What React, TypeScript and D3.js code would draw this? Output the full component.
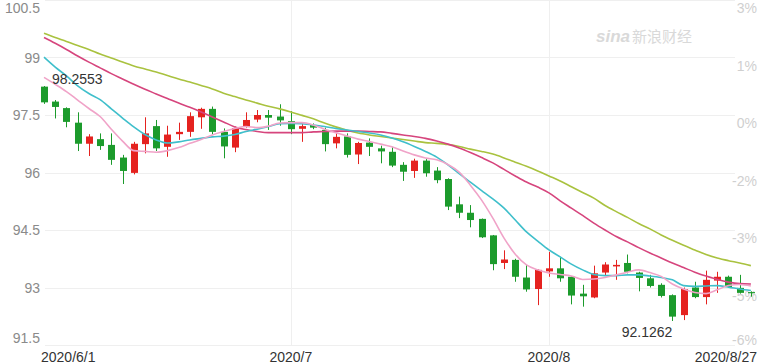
import React from 'react';
import * as d3 from 'd3';

const dates = [
  '2020-06-01','2020-06-02','2020-06-03','2020-06-04','2020-06-05','2020-06-08','2020-06-09','2020-06-10','2020-06-11','2020-06-12',
  '2020-06-15','2020-06-16','2020-06-17','2020-06-18','2020-06-19','2020-06-22','2020-06-23','2020-06-24','2020-06-25','2020-06-26',
  '2020-06-29','2020-06-30','2020-07-01','2020-07-02','2020-07-03','2020-07-06','2020-07-07','2020-07-08','2020-07-09','2020-07-10',
  '2020-07-13','2020-07-14','2020-07-15','2020-07-16','2020-07-17','2020-07-20','2020-07-21','2020-07-22','2020-07-23','2020-07-24',
  '2020-07-27','2020-07-28','2020-07-29','2020-07-30','2020-07-31','2020-08-03','2020-08-04','2020-08-05','2020-08-06','2020-08-07',
  '2020-08-10','2020-08-11','2020-08-12','2020-08-13','2020-08-14','2020-08-17','2020-08-18','2020-08-19','2020-08-20','2020-08-21',
  '2020-08-24','2020-08-25','2020-08-26','2020-08-27'
];

const open = [
  98.24,97.85,97.68,97.30,96.75,96.87,96.72,96.39,95.99,96.74,
  97.21,96.67,97.00,97.06,97.44,97.66,97.06,96.65,97.19,97.38,
  97.50,97.46,97.34,97.14,97.24,97.11,96.76,96.94,96.47,96.78,
  96.63,96.54,96.20,96.04,96.31,96.05,95.83,95.17,94.95,94.79,
  94.36,93.64,93.72,93.26,92.96,93.42,93.50,93.28,92.84,92.74,
  93.39,93.55,93.64,93.39,93.24,93.07,92.80,92.28,93.00,92.75,
  93.18,93.28,92.99,92.88
];
const high = [
  98.2553,97.89,97.70,97.57,97.00,97.02,97.02,96.46,96.80,97.44,
  97.37,97.22,97.30,97.57,97.69,97.72,97.15,97.20,97.57,97.63,
  97.63,97.78,97.60,97.28,97.28,97.17,97.02,97.02,96.80,96.89,
  96.70,96.67,96.27,96.36,96.35,96.14,95.85,95.37,95.15,94.80,
  94.37,93.97,93.75,93.59,93.48,93.93,93.80,93.29,93.07,93.57,
  93.66,93.72,93.86,93.41,93.33,93.11,92.82,93.00,93.15,93.44,
  93.41,93.31,93.33,92.90
];
const low = [
  97.79,97.41,97.18,96.56,96.43,96.59,96.20,95.70,95.95,96.50,
  96.56,96.41,96.85,96.93,97.14,97.00,96.37,96.53,97.17,97.31,
  97.11,97.22,97.00,96.80,97.13,96.55,96.63,96.39,96.22,96.43,
  96.24,96.14,95.78,95.86,95.89,95.72,95.02,94.81,94.57,94.29,
  93.45,93.48,93.15,92.89,92.54,93.28,93.15,92.56,92.50,92.72,
  93.31,93.20,93.37,92.90,93.00,92.74,92.1262,92.15,92.72,92.56,
  92.86,93.00,92.84,92.76
];
const close = [
  97.83,97.71,97.32,96.75,96.94,96.69,96.33,96.04,96.75,97.02,
  96.63,96.99,97.06,97.47,97.66,97.06,96.68,97.16,97.37,97.50,
  97.43,97.36,97.13,97.21,97.17,96.74,96.93,96.46,96.77,96.67,
  96.55,96.18,96.02,96.31,95.98,95.80,95.11,94.95,94.76,94.31,
  93.61,93.73,93.28,92.95,93.46,93.50,93.24,92.79,92.77,93.37,
  93.60,93.59,93.41,93.25,93.04,92.78,92.24,92.96,92.75,93.20,
  93.28,93.01,92.86,92.85
];

const ma5 = [
  98.48,98.30,98.11,97.89,97.67,97.46,97.13,96.82,96.57,96.55,
  96.53,96.57,96.65,96.76,96.86,96.98,97.07,97.15,97.20,97.17,
  97.21,97.29,97.30,97.30,97.24,97.13,97.04,96.95,96.87,96.81,
  96.74,96.67,96.56,96.46,96.38,96.33,96.21,96.01,95.67,95.28,
  94.81,94.29,93.87,93.59,93.46,93.38,93.34,93.30,93.21,93.22,
  93.26,93.33,93.40,93.46,93.39,93.29,93.09,92.96,92.87,92.84,
  92.94,93.05,93.08,93.04
];
const ma10 = [
  99.01,98.75,98.52,98.26,98.06,97.90,97.66,97.42,97.19,96.99,
  96.85,96.77,96.80,96.85,96.89,96.93,96.95,96.99,97.07,97.13,
  97.20,97.27,97.28,97.27,97.24,97.20,97.15,97.11,97.07,97.03,
  96.98,96.90,96.80,96.68,96.55,96.40,96.20,95.97,95.75,95.53,
  95.31,95.07,94.76,94.45,94.21,93.98,93.80,93.61,93.46,93.34,
  93.31,93.31,93.33,93.33,93.30,93.26,93.20,93.05,93.03,93.04,
  93.05,93.01,92.96,92.92
];
const ma20 = [
  99.52,99.37,99.21,99.04,98.88,98.73,98.58,98.44,98.30,98.17,
  98.05,97.93,97.81,97.70,97.58,97.45,97.32,97.19,97.12,97.07,
  97.04,97.04,97.04,97.04,97.06,97.07,97.08,97.08,97.08,97.07,
  97.06,97.02,96.98,96.94,96.89,96.82,96.74,96.64,96.52,96.39,
  96.25,96.08,95.91,95.75,95.62,95.47,95.26,95.07,94.88,94.68,
  94.50,94.33,94.19,94.04,93.90,93.77,93.64,93.52,93.40,93.30,
  93.21,93.14,93.10,93.09
];
const ma30 = [
  99.63,99.52,99.42,99.31,99.21,99.09,98.99,98.88,98.78,98.70,
  98.62,98.53,98.44,98.36,98.27,98.18,98.07,97.98,97.89,97.81,
  97.73,97.66,97.58,97.49,97.40,97.29,97.19,97.10,97.03,96.98,
  96.94,96.90,96.86,96.82,96.78,96.76,96.73,96.68,96.61,96.55,
  96.48,96.38,96.27,96.16,96.04,95.91,95.78,95.63,95.48,95.33,
  95.14,94.98,94.83,94.67,94.53,94.37,94.23,94.10,93.98,93.86,
  93.77,93.70,93.64,93.57
];

const yTicks = [91.5, 93, 94.5, 96, 97.5, 99, 100.5];
const yTickLabels = ['91.5', '93', '94.5', '96', '97.5', '99', '100.5'];
const pctLabels = ['-6%', '-5%', '-3%', '-2%', '0%', '1%', '3%'];
const xTickDates = ['2020-06-01', '2020-07-01', '2020-08-03', '2020-08-27'];
const xTickLabels = ['2020/6/1', '2020/7', '2020/8', '2020/8/27'];
const gridDates = ['2020-07-01', '2020-08-03'];
const maxLabel = '98.2553';
const minLabel = '92.1262';

const W = 760;
const H = 364;
const FONT = 'Arial, "Liberation Sans", Helvetica, sans-serif';
const UP = '#e5221f';
const DOWN = '#1c9b2c';

export default function App() {
  const y = d3.scaleLinear().domain([91.5, 100.5]).range([345, 0]);
  const x = d3.scalePoint<string>().domain(dates).range([44, 750.9]);

  const mkLine = (arr: number[]) =>
    d3
      .line<number>()
      .x((_, i) => x(dates[i]) as number)
      .y((d) => y(d))
      .curve(d3.curveMonotoneX)(arr) as string;

  const iMax = d3.maxIndex(high);
  const iMin = d3.minIndex(low);

  const lines = [
    { data: ma30, color: '#a9c23f' },
    { data: ma20, color: '#d6457d' },
    { data: ma10, color: '#3fbfcb' },
    { data: ma5, color: '#f0a3c8' },
  ];

  return (
    <svg
      width={W}
      height={H}
      style={{ position: 'absolute', left: 0, top: 0, background: '#fff' }}
      fontFamily={FONT}
    >
      <rect x={0} y={0} width={W} height={H} fill="#fff" />
      {/* watermark */}
      <g fill="#d9d9d9">
        <text x={596} y={42} fontSize={17} fontStyle="italic" fontWeight="bold" fontFamily={FONT}>
          sina
        </text>
        <text x={632} y={42} fontSize={15} fontFamily='"Noto Sans CJK SC", sans-serif'>
          新浪财经
        </text>
      </g>
      {/* horizontal grid */}
      {yTicks.map((t) => (
        <line key={'g' + t} x1={45} x2={735} y1={Math.round(y(t)) + 0.5} y2={Math.round(y(t)) + 0.5} stroke="#efefef" strokeWidth={1} />
      ))}
      {gridDates.map((d) => (
        <line key={'v' + d} x1={Math.round(x(d) as number) + 0.5} x2={Math.round(x(d) as number) + 0.5} y1={0} y2={345} stroke="#efefef" strokeWidth={1} />
      ))}
      {/* left labels */}
      {yTicks.map((t, i) => {
        let by = y(t) + 5;
        if (i === yTicks.length - 1) by = 13;
        if (i === 0) by = 343;
        return (
          <text key={'l' + t} x={40} y={by} textAnchor="end" fontSize={14} fill="#8a8a8a">
            {yTickLabels[i]}
          </text>
        );
      })}
      {/* right labels */}
      {yTicks.map((t, i) => {
        let by = y(t) + 13;
        if (by > 345) by = 345;
        return (
          <text key={'r' + t} x={757} y={by} textAnchor="end" fontSize={14} fill="#cfcfcf">
            {pctLabels[i]}
          </text>
        );
      })}
      {/* candles */}
      {dates.map((d, i) => {
        const cx = Math.round(x(d) as number);
        const o = open[i];
        const c = close[i];
        const col = c >= o ? UP : DOWN;
        const top = y(Math.max(o, c));
        const bot = y(Math.min(o, c));
        return (
          <g key={d}>
            <line x1={cx + 0.5} x2={cx + 0.5} y1={y(high[i])} y2={y(low[i])} stroke={col} strokeWidth={1} />
            <rect x={cx - 3} y={top} width={7} height={Math.max(1, bot - top)} fill={col} />
          </g>
        );
      })}
      {/* moving averages */}
      {lines.map((l, k) => (
        <path key={k} d={mkLine(l.data)} fill="none" stroke={l.color} strokeWidth={1.6} />
      ))}
      {/* max / min annotations */}
      <text x={(x(dates[iMax]) as number) + 8} y={y(high[iMax]) - 2} fontSize={14} fill="#333">
        {maxLabel}
      </text>
      <text x={x(dates[iMin]) as number} y={y(low[iMin]) + 16} textAnchor="end" fontSize={14} fill="#333">
        {minLabel}
      </text>
      {/* x labels */}
      {xTickDates.map((d, i) => {
        const anchor = i === 0 ? 'start' : i === xTickDates.length - 1 ? 'end' : 'middle';
        const px = i === 0 ? 41 : i === xTickDates.length - 1 ? 757 : (x(d) as number);
        return (
          <text key={d} x={px} y={362} textAnchor={anchor} fontSize={14} fill="#333">
            {xTickLabels[i]}
          </text>
        );
      })}
    </svg>
  );
}
